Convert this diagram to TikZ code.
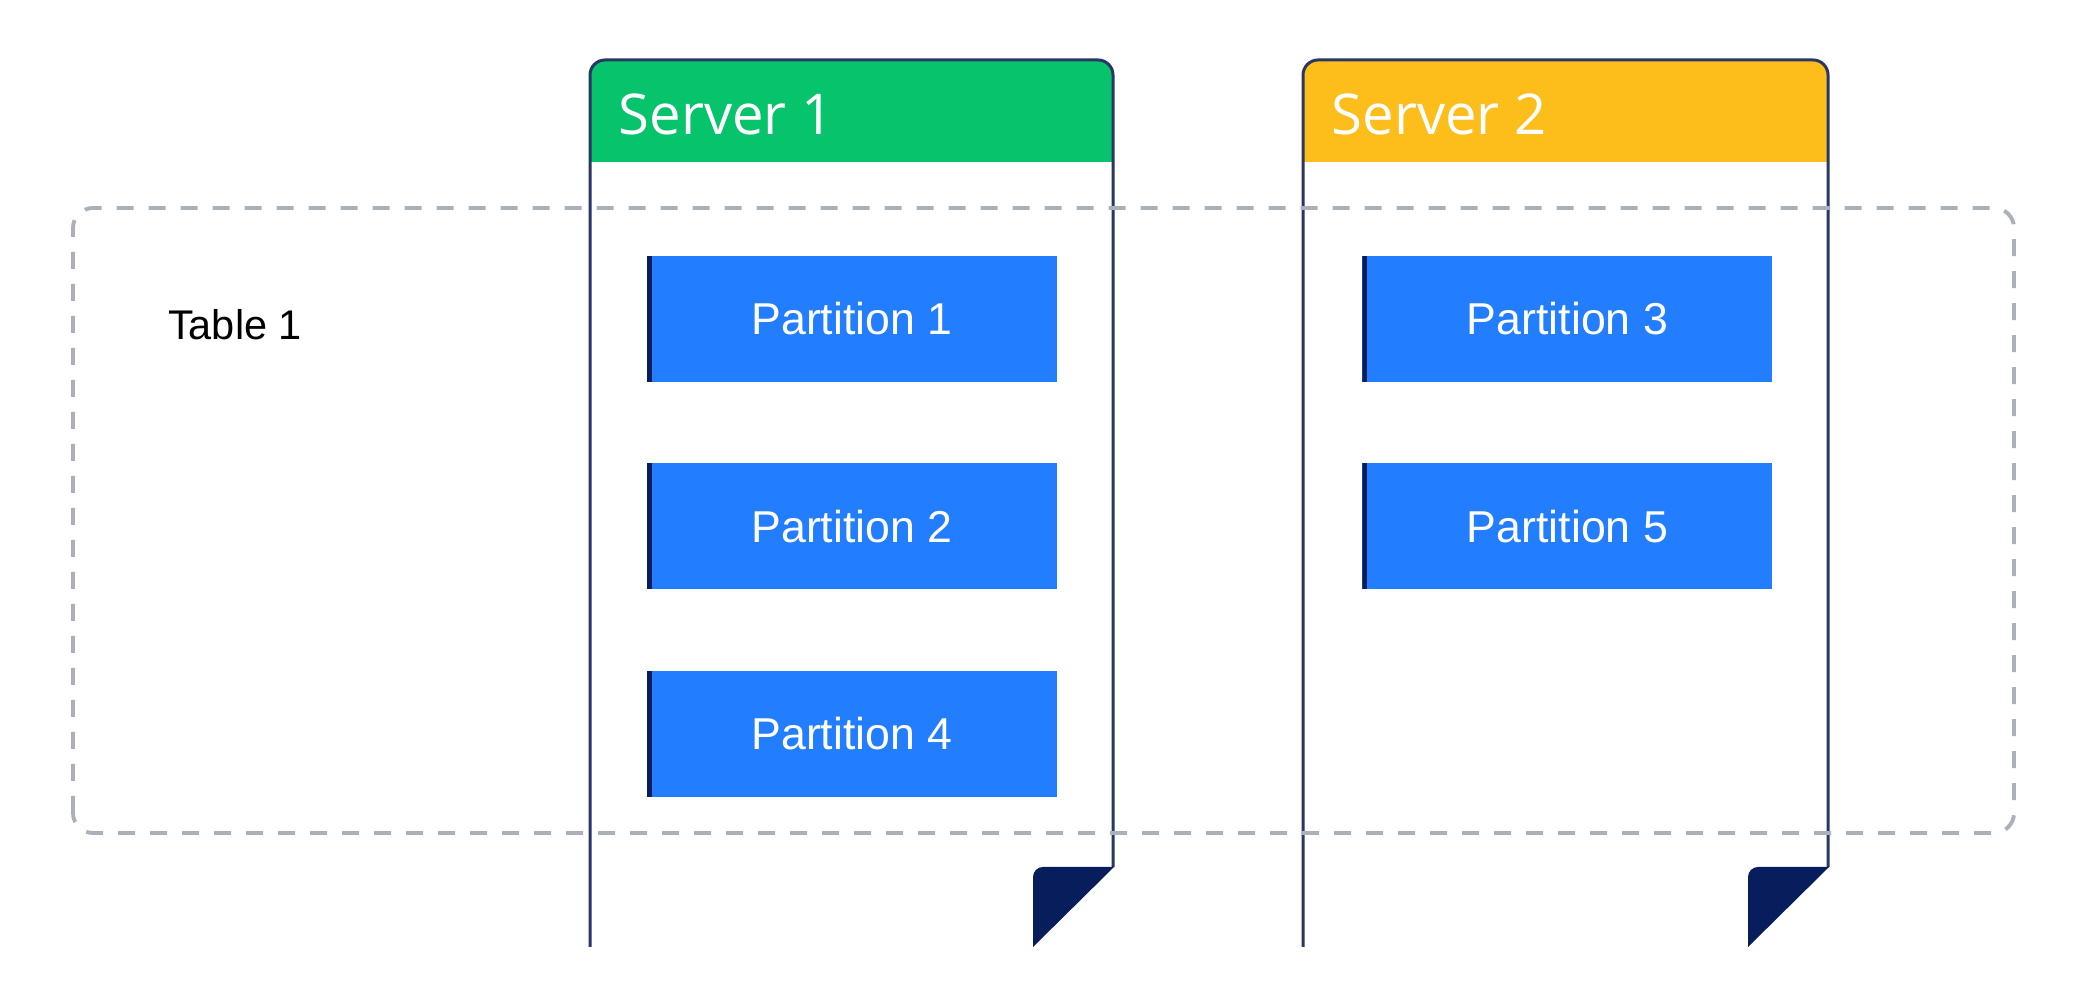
\documentclass[tikz,border=0pt]{standalone}
\usepackage{fontspec}
\setmainfont{Liberation Sans}
\newfontfamily\headfont{Open Sans}
\usepackage{tikz}
\usetikzlibrary{positioning}
\definecolor{srvgreen}{RGB}{6,195,108}
\definecolor{srvyellow}{RGB}{253,189,26}
\definecolor{partblue}{RGB}{35,126,255}
\definecolor{foldnavy}{RGB}{8,30,92}
\definecolor{cardline}{RGB}{40,55,100}
\definecolor{tablegray}{RGB}{172,176,186}
\begin{document}
\begin{tikzpicture}
[
part/.style={rectangle, fill=partblue, text=white, minimum width=41.0mm, minimum height=12.6mm, inner sep=0pt,
  font=\fontsize{12.7}{15}\selectfont,
  path picture={\fill[foldnavy] (path picture bounding box.south west) rectangle ([xshift=0.45mm]path picture bounding box.north west);}},
card/.style={draw=cardline, line width=0.85pt, rounded corners=1.5mm},
fold/.style={fill=foldnavy},
srv-text/.style={text=white, inner sep=0pt, anchor=west, font=\headfont\fontsize{16}{19}\selectfont},
table-box/.style={draw=tablegray, line width=1.1pt, dash pattern=on 1.7mm off 1.5mm, rounded corners=2mm},
table-text/.style={black, font=\fontsize{11.8}{14}\selectfont},
]
\useasboundingbox (0,0) rectangle (20.82,10);
% server 1
\fill [srvgreen] (5.90,8.38) rectangle (11.13,9.00);
\fill [srvgreen, rounded corners=1.5mm] (5.90,8.80) rectangle (11.13,9.40);
\draw [card] (5.90,0.53) -- (5.90,9.40) -- (11.13,9.40) -- (11.13,1.33);
\fill [fold] (10.33,0.53) -- (10.33,1.23) arc (180:90:0.10) -- (11.14,1.33) -- cycle;
\node (srv1) [srv-text] at (6.18,8.86) {Server 1};
% server 2
\fill [srvyellow] (13.03,8.38) rectangle (18.28,9.00);
\fill [srvyellow, rounded corners=1.5mm] (13.03,8.80) rectangle (18.28,9.40);
\draw [card] (13.03,0.53) -- (13.03,9.40) -- (18.28,9.40) -- (18.28,1.33);
\fill [fold] (17.48,0.53) -- (17.48,1.23) arc (180:90:0.10) -- (18.29,1.33) -- cycle;
\node (srv2) [srv-text] at (13.31,8.86) {Server 2};
% table
\draw [table-box] (0.73,1.67) rectangle (20.14,7.92);
\node (tbl) [table-text] at (2.35,6.75) {Table 1};
% partitions
\node (p1) [part] at (8.52,6.81)          {Partition 1};
\node (p2) [part, below = 8.00mm of p1]   {Partition 2};
\node (p4) [part, below = 8.00mm of p2]   {Partition 4};
\node (p3) [part, right = 30.40mm of p1]  {Partition 3};
\node (p5) [part, below = 8.00mm of p3]   {Partition 5};
\end{tikzpicture}
\end{document}
